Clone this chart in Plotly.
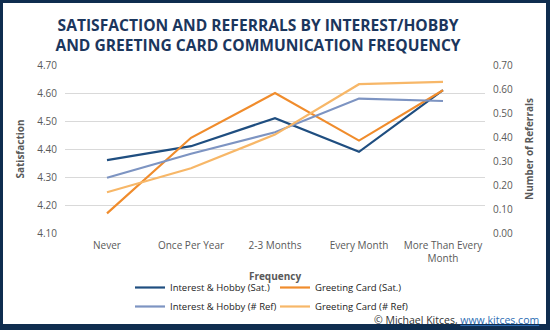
import plotly.graph_objects as go

categories = ["Never", "Once Per Year", "2-3 Months", "Every Month", "More Than Every<br>Month"]
ih_sat = [4.36, 4.41, 4.51, 4.39, 4.61]
gc_sat = [4.17, 4.44, 4.60, 4.43, 4.61]
ih_ref = [0.23, 0.33, 0.42, 0.56, 0.55]
gc_ref = [0.17, 0.27, 0.41, 0.62, 0.63]

W, H = 550, 330
L, R, T, B = 65, 65, 65, 97
PW, PH = W - L - R, H - T - B

def px(x):
    return (x - L) / PW

def py(y):
    return (H - B - y) / PH

NAVY = "#0f2d4f"
GRAY = "#595959"
FONT = "Open Sans"

fig = go.Figure()
fig.add_trace(go.Scatter(x=categories, y=ih_sat, name="Interest & Hobby (Sat.)",
                         mode="lines", line=dict(color="#1f4e80", width=2.2)))
fig.add_trace(go.Scatter(x=categories, y=gc_sat, name="Greeting Card (Sat.)",
                         mode="lines", line=dict(color="#f08c2c", width=2.2)))
fig.add_trace(go.Scatter(x=categories, y=ih_ref, name="Interest & Hobby (# Ref)",
                         mode="lines", line=dict(color="#7d94c2", width=2.2), yaxis="y2"))
fig.add_trace(go.Scatter(x=categories, y=gc_ref, name="Greeting Card (# Ref)",
                         mode="lines", line=dict(color="#f7b768", width=2.2), yaxis="y2"))

shapes = []
for (x0, y0, x1, y1) in [(0, 0, 550, 3), (0, 0, 3, 330), (546, 0, 550, 330), (0, 324, 550, 330)]:
    shapes.append(dict(type="rect", xref="paper", yref="paper",
                       x0=px(x0), x1=px(x1), y0=py(y0), y1=py(y1),
                       fillcolor=NAVY, line=dict(width=0), layer="above"))

fig.update_layout(
    width=W, height=H,
    margin=dict(l=L, r=R, t=T, b=B, autoexpand=False),
    paper_bgcolor="white", plot_bgcolor="white",
    font=dict(family=FONT, color=GRAY, size=10),
    title=dict(text="SATISFACTION AND REFERRALS BY INTEREST/HOBBY<br>AND GREETING CARD COMMUNICATION FREQUENCY",
               x=258 / W, xanchor="center", xref="container",
               y=1 - 31 / H, yanchor="middle", yref="container",
               font=dict(family=FONT, size=15.6, color="#1b365d", weight="bold")),
    xaxis=dict(showgrid=False, showline=False, ticks="", range=[-0.5, 4.5], automargin=False,
               ticklabelstandoff=5, tickfont=dict(size=10, color=GRAY),
               title=dict(text="Frequency", font=dict(size=10, color=GRAY, weight="bold"), standoff=8)),
    yaxis=dict(range=[4.10, 4.70], dtick=0.1, tickformat=".2f", showgrid=True, automargin=False,
               gridcolor="#d9d9d9", gridwidth=1, zeroline=False, showline=False, ticks="",
               ticklabelstandoff=7, tickfont=dict(size=10, color=GRAY),
               title=dict(text="Satisfaction", font=dict(size=10, color=GRAY, weight="bold"), standoff=10)),
    yaxis2=dict(range=[0, 0.70], dtick=0.1, tickformat=".2f", overlaying="y", side="right",
                showgrid=False, zeroline=False, showline=False, ticks="", automargin=False,
                ticklabelstandoff=7, tickfont=dict(size=10, color=GRAY),
                title=dict(text="Number of Referrals", font=dict(size=10, color=GRAY, weight="bold"), standoff=13)),
    legend=dict(orientation="h", x=px(130), xanchor="left", y=py(273), yanchor="top",
                font=dict(size=9.5, color="#222222"), entrywidth=100, entrywidthmode="pixels",
                itemwidth=30, tracegroupgap=0, bgcolor="rgba(0,0,0,0)"),
    shapes=shapes,
    annotations=[dict(text="© Michael Kitces, <span style='color:#2e6db4;text-decoration:underline'>www.kitces.com</span>",
                      xref="paper", yref="paper", x=px(541), y=py(320), xanchor="right", yanchor="middle",
                      showarrow=False, font=dict(size=10.5, color="#333333"))],
)

fig.write_html("out.html")
